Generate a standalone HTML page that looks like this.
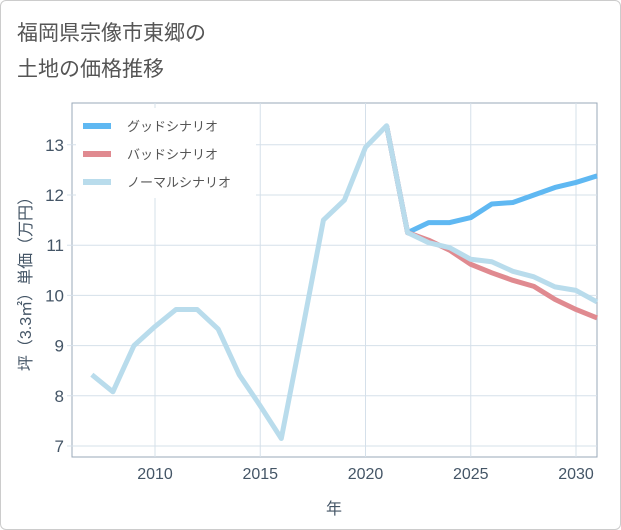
<!DOCTYPE html>
<html><head><meta charset="utf-8"><style>
body{margin:0;background:#fff;font-family:"Liberation Sans","Noto Sans CJK JP",sans-serif;}
#wrap{position:relative;width:619px;height:528px;border:1px solid #ccc;border-radius:6px;background:#fff;overflow:hidden}
.t{position:absolute;left:16px;font-size:21px;color:#555}
</style></head><body>
<div id="wrap">
<div class="t" style="top:16px">福岡県宗像市東郷の</div>
<div class="t" style="top:52px">土地の価格推移</div>
<svg id="c" width="621" height="530" style="position:absolute;left:-1px;top:-1px"></svg>
</div>
<script>
const years=[2007,2008,2009,2010,2011,2012,2013,2014,2015,2016,2017,2018,2019,2020,2021,2022,2023,2024,2025,2026,2027,2028,2029,2030,2031];
const normal=[8.42,8.08,9.0,9.38,9.72,9.72,9.33,8.42,7.8,7.15,9.3,11.5,11.9,12.95,13.38,11.25,11.05,10.95,10.72,10.67,10.48,10.37,10.17,10.1,9.87];
const futYears=[2021,2022,2023,2024,2025,2026,2027,2028,2029,2030,2031];
const good=[13.38,11.25,11.45,11.45,11.55,11.82,11.85,12.0,12.15,12.25,12.38];
const bad=[13.38,11.25,11.1,10.9,10.62,10.45,10.3,10.18,9.92,9.72,9.55];
const xTicks=[2010,2015,2020,2025,2030];
const yTicks=[7,8,9,10,11,12,13];
const L=72,R=597,T=103,B=457;
const x=v=>155+(v-2010)*21.05;
const y=v=>446-(v-7)*50.2;
const svg=document.getElementById('c');const NS='http://www.w3.org/2000/svg';
function mk(t,a,p){const e=document.createElementNS(NS,t);for(const k in a)e.setAttribute(k,a[k]);(p||svg).appendChild(e);return e;}
let e=mk('rect',{x:L,y:T,width:R-L,height:B-T,fill:'#fff',stroke:'#9aa8b8'});


xTicks.forEach(v=>{let g=mk('line',{x1:x(v),x2:x(v),y1:T,y2:B,stroke:'#d5e0ea'});


let t=mk('text',{x:x(v),y:B+22,'text-anchor':'middle','font-size':16,fill:'#445566'});t.textContent=v;

});
yTicks.forEach(v=>{let g=mk('line',{x1:L-5,x2:R,y1:y(v),y2:y(v),stroke:'#d5e0ea'});


let t=mk('text',{x:L-8,y:y(v)+6,'text-anchor':'end','font-size':17,fill:'#445566'});t.textContent=v;

});
function line(xs,ys,col,name){const d=xs.map((v,i)=>(i?'L':'M')+x(v)+','+y(ys[i])).join('');
const p=mk('path',{d:d,fill:'none',stroke:col,'stroke-width':5,'stroke-linejoin':'round'});

}
line(futYears,good,'#5fb8f2','good-scenario-line');
line(futYears,bad,'#e08a90','bad-scenario-line');
line(years,normal,'#b9dcec','normal-scenario-line');
let lg=mk('rect',{x:76,y:108,width:180,height:90,fill:'#fff'});


[['グッドシナリオ','#5fb8f2'],['バッドシナリオ','#e08a90'],['ノーマルシナリオ','#b9dcec']].forEach((s,i)=>{
const yy=126+i*28;
let l=mk('line',{x1:83,x2:111,y1:yy,y2:yy,stroke:s[1],'stroke-width':6});


let t=mk('text',{x:127,y:yy+5,'font-size':13,fill:'#555'});t.textContent=s[0];

});
let xt=mk('text',{x:334,y:514,'text-anchor':'middle','font-size':16,fill:'#445566'});xt.textContent='年';


let yt=mk('text',{x:0,y:0,'text-anchor':'middle','font-size':16,fill:'#445566',transform:'translate(31,280) rotate(-90)'});yt.textContent='坪（3.3㎡）単価（万円）';


</script>
</body></html>
